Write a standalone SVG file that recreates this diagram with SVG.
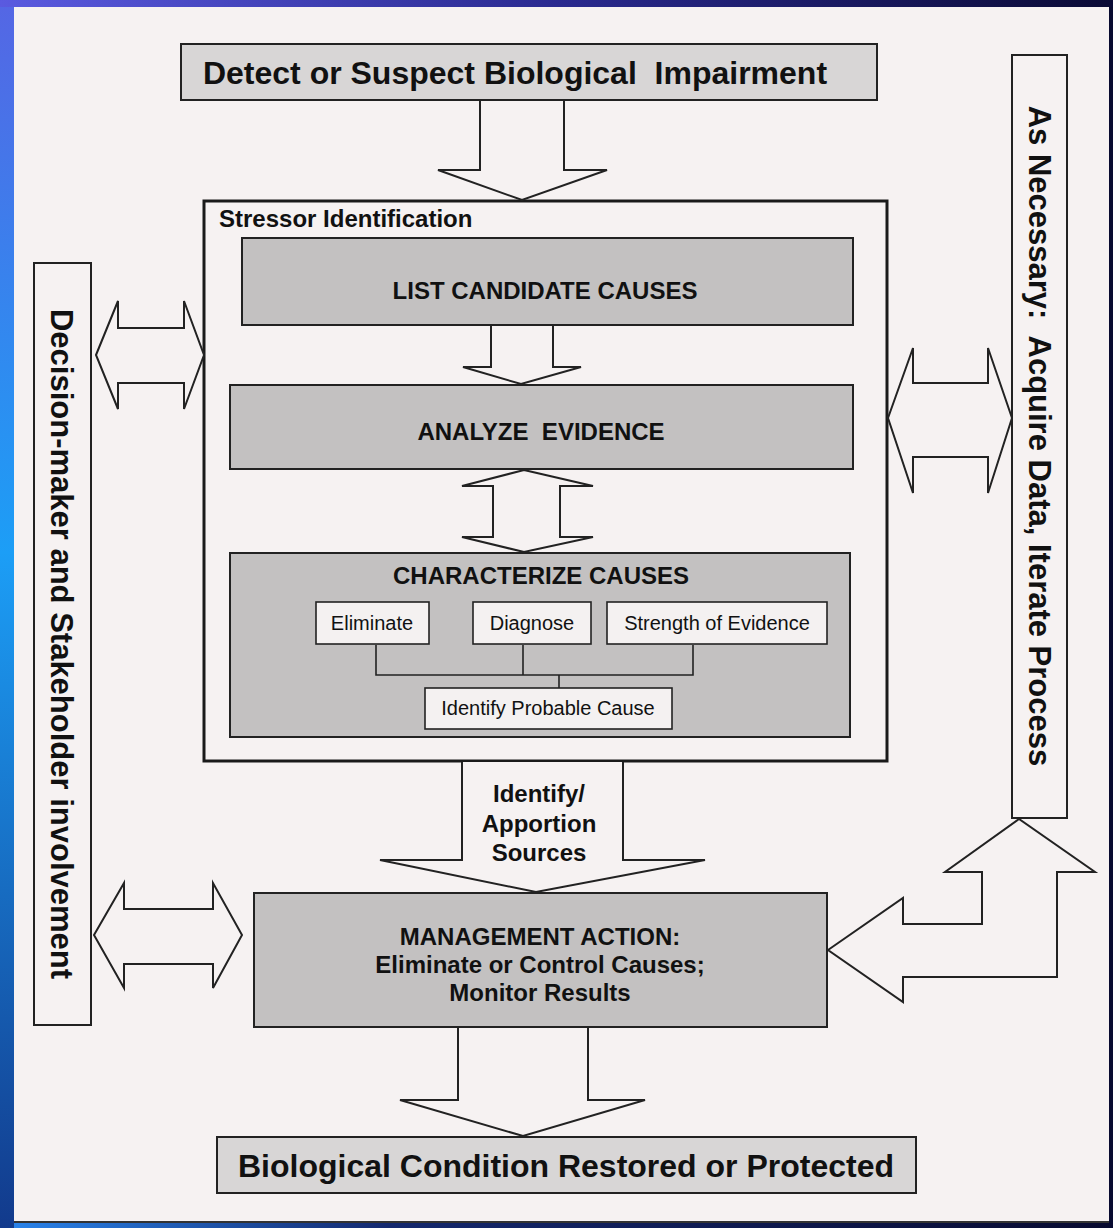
<svg xmlns="http://www.w3.org/2000/svg" width="1113" height="1228" viewBox="0 0 1113 1228">
<defs>
<linearGradient id="bgH" x1="0" y1="0" x2="1" y2="0">
<stop offset="0" stop-color="#2a86ee"/>
<stop offset="0.35" stop-color="#14286e"/>
<stop offset="1" stop-color="#080a30"/>
</linearGradient>
<linearGradient id="leftV" x1="0" y1="0" x2="0" y2="1">
<stop offset="0" stop-color="#5566e4"/>
<stop offset="0.45" stop-color="#1c9ef6"/>
<stop offset="1" stop-color="#123a8c"/>
</linearGradient>
<linearGradient id="topH" x1="0" y1="0" x2="1" y2="0">
<stop offset="0" stop-color="#5a5ae0"/>
<stop offset="0.5" stop-color="#2a2a90"/>
<stop offset="1" stop-color="#0a0a35"/>
</linearGradient>
<style>
.box{stroke:#222;stroke-width:2}
.light{fill:#d8d6d6}
.mid{fill:#c3c1c1}
.white{fill:#f4f1f1;stroke:#222;stroke-width:1.6}
.arrow{fill:#f6f2f2;stroke:#222;stroke-width:2;stroke-linejoin:miter}
.conn{fill:none;stroke:#222;stroke-width:1.6}
text{font-family:"Liberation Sans",Arial,sans-serif;fill:#111;white-space:pre}
.big{font-size:32px;font-weight:bold}
.side{font-size:31px;font-weight:bold}
.head{font-size:24px;font-weight:bold}
.small{font-size:20px}
</style>
</defs>
<rect x="0" y="0" width="1113" height="1228" fill="url(#bgH)"/>
<rect x="0" y="0" width="14" height="1228" fill="url(#leftV)"/>
<rect x="0" y="0" width="1113" height="7" fill="url(#topH)"/>
<rect x="14" y="7" width="1095" height="1216" fill="#f6f2f2"/>
<line x1="14" y1="1222" x2="1109" y2="1222" stroke="#333" stroke-width="2"/>

<g id="detect">
<rect class="box light" x="181" y="44" width="696" height="56"/>
<text class="big" x="515" y="84" text-anchor="middle" xml:space="preserve">Detect or Suspect Biological  Impairment</text>
</g>

<g id="stressor">
<rect x="204" y="201" width="683" height="560" fill="none" stroke="#1a1a1a" stroke-width="3"/>
<text class="head" x="219" y="227">Stressor Identification</text>
</g>

<g id="list">
<rect class="box mid" x="242" y="238" width="611" height="87"/>
<text class="head" x="545" y="299" text-anchor="middle">LIST CANDIDATE CAUSES</text>
</g>

<g id="analyze">
<rect class="box mid" x="230" y="385" width="623" height="84"/>
<text class="head" x="541" y="440" text-anchor="middle" xml:space="preserve">ANALYZE  EVIDENCE</text>
</g>

<g id="characterize">
<rect class="box mid" x="230" y="553" width="620" height="184"/>
<text class="head" x="541" y="584" text-anchor="middle">CHARACTERIZE CAUSES</text>
</g>

<g id="eliminate">
<rect class="white" x="316" y="602" width="113" height="42"/>
<text class="small" x="372" y="630" text-anchor="middle">Eliminate</text>
</g>
<g id="diagnose">
<rect class="white" x="473" y="602" width="118" height="42"/>
<text class="small" x="532" y="630" text-anchor="middle">Diagnose</text>
</g>
<g id="strength">
<rect class="white" x="607" y="602" width="220" height="42"/>
<text class="small" x="717" y="630" text-anchor="middle">Strength of Evidence</text>
</g>
<g id="probable">
<rect class="white" x="425" y="688" width="247" height="41"/>
<text class="small" x="548" y="715" text-anchor="middle">Identify Probable Cause</text>
</g>

<g id="management">
<rect class="box mid" x="254" y="893" width="573" height="134"/>
<text class="head" x="540" y="945" text-anchor="middle">MANAGEMENT ACTION:</text>
<text class="head" x="540" y="973" text-anchor="middle">Eliminate or Control Causes;</text>
<text class="head" x="540" y="1001" text-anchor="middle">Monitor Results</text>
</g>

<g id="restored">
<rect class="box light" x="217" y="1137" width="699" height="56"/>
<text class="big" x="566" y="1177" text-anchor="middle">Biological Condition Restored or Protected</text>
</g>

<g id="decision">
<rect class="box" x="34" y="263" width="57" height="762" fill="#f6f2f2"/>
<text class="side" transform="translate(51,644) rotate(90)" text-anchor="middle">Decision-maker and Stakeholder involvement</text>
</g>

<g id="necessary">
<rect class="box" x="1012" y="55" width="55" height="763" fill="#f6f2f2"/>
<text class="side" transform="translate(1029,436) rotate(90)" text-anchor="middle" xml:space="preserve">As Necessary:  Acquire Data, Iterate Process</text>
</g>

<g id="connectors">
<path class="arrow" d="M480,101 V170 H438 L522,200 L607,170 H564 V101"/>
<path class="arrow" d="M491,326 V367 H463 L521,384 L581,367 H553 V326"/>
<polygon class="arrow" points="524,470 593,486 560,486 560,537 593,537 524,552 462,537 493,537 493,486 462,486"/>
<path class="arrow" d="M462,762 V860 H380 L536,892 L705,860 H623 V762"/>
<path class="arrow" d="M458,1028 V1100 H400 L523,1136 L645,1100 H588 V1028"/>
<polygon class="arrow" points="96,355 118,301 118,328 184,328 184,301 204,355 184,409 184,383 118,383 118,409"/>
<polygon class="arrow" points="94,935 124,883 124,909 213,909 213,883 242,935 213,988 213,964 124,964 124,988"/>
<polygon class="arrow" points="888,418 913,348 913,383 988,383 988,348 1012,418 988,493 988,457 913,457 913,493"/>
<polygon class="arrow" points="828,950 903,898 903,924 982,924 982,872 945,872 1019,819 1095,872 1057,872 1057,977 903,977 903,1002"/>
<path class="conn" d="M376,645 V675 H693 V645 M523,645 V675 M559,675 V688"/>
<text class="head" x="539" y="802" text-anchor="middle">Identify/</text>
<text class="head" x="539" y="832" text-anchor="middle">Apportion</text>
<text class="head" x="539" y="861" text-anchor="middle">Sources</text>
</g>
</svg>
